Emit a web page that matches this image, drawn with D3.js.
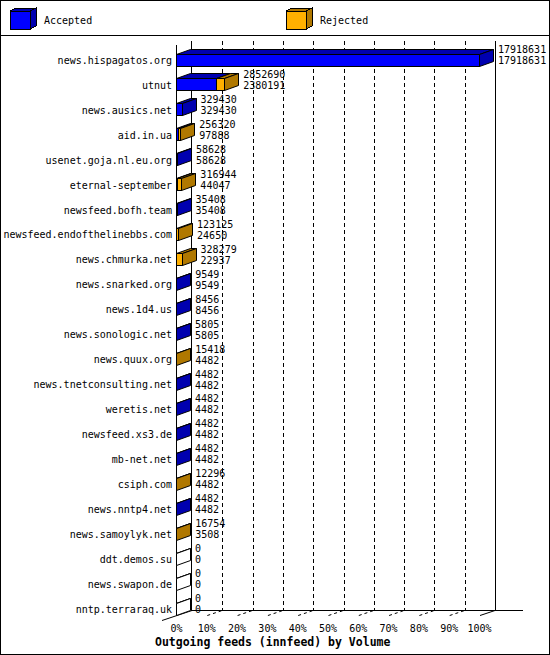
<!DOCTYPE html>
<html>
<head>
<meta charset="utf-8">
<script src="https://cdn.jsdelivr.net/npm/d3@7"></script>
<style>
  body { margin: 0; background: #fff; }
  svg { display: block; }
  text { font-family: "DejaVu Sans Mono", monospace; fill: #000; }
</style>
</head>
<body>
<div id="chart"></div>
<script>
// feeds, top to bottom
var hosts = ["news.hispagatos.org", "utnut", "news.ausics.net", "aid.in.ua",
    "usenet.goja.nl.eu.org", "eternal-september", "newsfeed.bofh.team",
    "newsfeed.endofthelinebbs.com", "news.chmurka.net", "news.snarked.org",
    "news.1d4.us", "news.sonologic.net", "news.quux.org", "news.tnetconsulting.net",
    "weretis.net", "newsfeed.xs3.de", "mb-net.net", "csiph.com", "news.nntp4.net",
    "news.samoylyk.net", "ddt.demos.su", "news.swapon.de", "nntp.terraraq.uk"];
// upper label: offered (accepted + rejected)
var offered = [17918631, 2852690, 329430, 256320, 58628, 316944, 35408, 123125,
    328279, 9549, 8456, 5805, 15418, 4482, 4482, 4482, 4482, 12296, 4482, 16754, 0, 0, 0];
// lower label: accepted
var accepted = [17918631, 2380191, 329430, 97888, 58628, 44047, 35408, 24650,
    22937, 9549, 8456, 5805, 4482, 4482, 4482, 4482, 4482, 4482, 4482, 3508, 0, 0, 0];
var series = ["Accepted", "Rejected"];
var pctTicks = [0, 10, 20, 30, 40, 50, 60, 70, 80, 90, 100];
var title = "Outgoing feeds (innfeed) by Volume";

var width = 550, height = 655;
var front = ["#0000ff", "#ffb000"];
var shade = ["#0000b0", "#b07800"];
var dx = 14, dy = -5;      // bar depth
var fdx = 15, fdy = -5;    // floor / wall depth
var barH = 12;

var svg = d3.select("#chart").append("svg")
    .attr("width", width)
    .attr("height", height)
    .attr("shape-rendering", "crispEdges");

// frame + legend box
svg.append("rect")
    .attr("x", 0.5).attr("y", 0.5)
    .attr("width", width - 1).attr("height", height - 1)
    .attr("fill", "#fff").attr("stroke", "#000");
svg.append("line")
    .attr("x1", 0).attr("x2", width)
    .attr("y1", 35.5).attr("y2", 35.5)
    .attr("stroke", "#000");

function pts(a) {
    return a.map(function (p) { return p[0] + "," + p[1]; }).join(" ");
}

var legend = svg.selectAll(".legend")
    .data(series)
    .enter()
    .append("g")
    .attr("class", "legend")
    .attr("transform", function (d, i) {
        return "translate(" + (i === 0 ? 10 : 286) + ",11)";
    });
legend.append("polygon")
    .attr("points", pts([[0, 0], [20, 0], [26, -3], [6, -3]]))
    .attr("fill", function (d, i) { return shade[i]; })
    .attr("stroke", "#000");
legend.append("polygon")
    .attr("points", pts([[20, 0], [26, -3], [26, 15], [20, 18]]))
    .attr("fill", function (d, i) { return shade[i]; })
    .attr("stroke", "#000");
legend.append("rect")
    .attr("x", 0).attr("y", 0)
    .attr("width", 20).attr("height", 18)
    .attr("fill", function (d, i) { return front[i]; })
    .attr("stroke", "#000");
legend.append("text")
    .attr("x", 34)
    .attr("y", 13)
    .attr("font-size", "10px")
    .text(function (d) { return d; });

// scales
var x = d3.scaleLinear()
    .domain([0, d3.max(offered)])
    .range([177, 480]);
var xPct = d3.scaleLinear()
    .domain([0, 100])
    .range(x.range());
var y = d3.scalePoint()
    .domain(hosts)
    .range([59.5, 608.5]);

var wallTop = 41, floorY = 615.5;

// back wall grid
svg.append("g")
    .selectAll("line")
    .data(pctTicks.slice(1, -1))
    .enter()
    .append("line")
    .attr("x1", function (d) { return Math.round(xPct(d) + fdx) + 0.5; })
    .attr("x2", function (d) { return Math.round(xPct(d) + fdx) + 0.5; })
    .attr("y1", wallTop)
    .attr("y2", floorY + fdy)
    .attr("stroke", "#000")
    .attr("stroke-dasharray", "4,3");

// floor grid (dashed slants)
svg.append("g")
    .selectAll("line")
    .data(pctTicks.slice(1, -1))
    .enter()
    .append("line")
    .attr("x1", function (d) { return xPct(d); })
    .attr("y1", floorY)
    .attr("x2", function (d) { return xPct(d) + fdx; })
    .attr("y2", floorY + fdy)
    .attr("stroke", "#000")
    .attr("shape-rendering", "auto")
    .attr("stroke-dasharray", "3,3");

// walls and floor edges
var x0 = xPct(0), x1 = xPct(100);
var edges = [
    [x0 - 0.5, wallTop + 4, x0 - 0.5, floorY],                 // front left
    [x0 + fdx - 0.5, wallTop, x0 + fdx - 0.5, floorY + fdy],   // back left
    [x1 + fdx + 0.5, wallTop, x1 + fdx + 0.5, floorY + fdy],   // back right
    [x0 + fdx - 0.5, floorY + fdy, 523, floorY + fdy]          // back floor
];
svg.append("g")
    .selectAll("line")
    .data(edges)
    .enter()
    .append("line")
    .attr("x1", function (d) { return d[0]; })
    .attr("y1", function (d) { return d[1]; })
    .attr("x2", function (d) { return d[2]; })
    .attr("y2", function (d) { return d[3]; })
    .attr("stroke", "#000");
svg.append("g")
    .selectAll("line")
    .data([[x0 - fdx, floorY - fdy, x0 + fdx, floorY + fdy], [x1, floorY, x1 + fdx, floorY + fdy]])
    .enter()
    .append("line")
    .attr("x1", function (d) { return d[0]; })
    .attr("y1", function (d) { return d[1]; })
    .attr("x2", function (d) { return d[2]; })
    .attr("y2", function (d) { return d[3]; })
    .attr("stroke", "#000")
    .attr("shape-rendering", "auto");

// bars
var rows = hosts.map(function (h, i) {
    return { host: h, offered: offered[i], accepted: accepted[i] };
});

var bar = svg.selectAll(".bar")
    .data(rows)
    .enter()
    .append("g")
    .attr("class", "bar");

bar.each(function (d) {
    var g = d3.select(this);
    var t = Math.round(y(d.host) - barH / 2) + 0.5, b = t + barH;
    var xs = x(0) - 0.5, xa = Math.round(x(d.accepted)) - 0.5, xe = Math.round(x(d.offered)) - 0.5;
    var segs = [[xs, xa, 0], [xa, xe, 1]].filter(function (s) { return s[1] > s[0]; });

    segs.forEach(function (s) {
        g.append("rect")
            .attr("x", s[0]).attr("y", t)
            .attr("width", s[1] - s[0]).attr("height", barH)
            .attr("fill", front[s[2]])
            .attr("stroke", "#000");
        g.append("polygon")
            .attr("points", pts([[s[0], t], [s[1], t], [s[1] + dx, t + dy], [s[0] + dx, t + dy]]))
            .attr("fill", shade[s[2]])
            .attr("stroke", "#000")
            .attr("shape-rendering", "auto");
    });
    if (!segs.length) {
        g.append("polygon")
            .attr("points", pts([[xs, t], [xs + dx, t + dy]]))
            .attr("fill", "none")
            .attr("stroke", "#000")
            .attr("shape-rendering", "auto");
    }
    var last = d.offered > d.accepted ? 1 : 0;
    g.append("polygon")
        .attr("points", pts([[xe, t], [xe + dx, t + dy], [xe + dx, b + dy], [xe, b]]))
        .attr("fill", d.offered > 0 ? shade[last] : "#fff")
        .attr("stroke", "#000")
        .attr("shape-rendering", "auto");

    var lx = x(d.offered) + dx + 4;
    g.append("text")
        .attr("x", lx)
        .attr("y", y(d.host) - 6.4)
        .attr("font-size", "10px")
        .text(d.offered);
    g.append("text")
        .attr("x", lx)
        .attr("y", y(d.host) + 4.6)
        .attr("font-size", "10px")
        .text(d.accepted);
});

// category axis
var yAxis = svg.append("g")
    .attr("transform", "translate(172,0)")
    .call(d3.axisLeft(y).tickSize(0).tickPadding(0));
yAxis.select(".domain").remove();
yAxis.selectAll("text")
    .attr("font-family", "DejaVu Sans Mono")
    .attr("font-size", "10px")
    .attr("dy", "0.38em");

// percent axis
var xAxis = svg.append("g")
    .attr("transform", "translate(-1,621)")
    .call(d3.axisBottom(xPct)
        .tickValues(pctTicks)
        .tickFormat(function (d) { return d + "%"; })
        .tickSize(0)
        .tickPadding(3.5));
xAxis.select(".domain").remove();
xAxis.selectAll("text")
    .attr("font-family", "DejaVu Sans Mono")
    .attr("font-size", "10px");

svg.append("text")
    .attr("x", 155)
    .attr("y", 645.5)
    .attr("font-size", "11.5px")
    .attr("font-weight", "bold")
    .text(title);
</script>
</body>
</html>
